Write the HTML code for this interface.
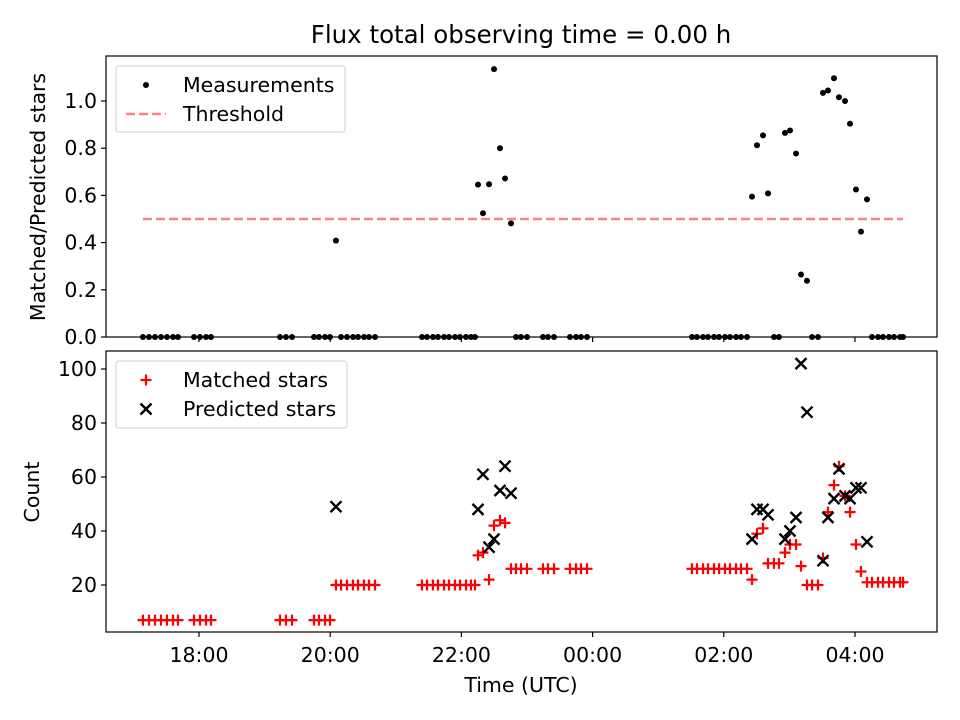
<!DOCTYPE html>
<html><head><meta charset="utf-8"><style>
body{margin:0;background:#fff}
svg{display:block;font-family:"DejaVu Sans","Liberation Sans",sans-serif}
</style></head><body>
<svg id="chart" width="960" height="720" viewBox="0 0 960 720" xmlns="http://www.w3.org/2000/svg">
<rect width="960" height="720" fill="#fff"/>
<text x="521" y="43" font-size="24.5" text-anchor="middle">Flux total observing time = 0.00 h</text>
<g id="gtop"></g><g id="gbot"></g>
<text transform="translate(45,197) rotate(-90)" font-size="20.5" text-anchor="middle">Matched/Predicted stars</text>
<text transform="translate(39,492) rotate(-90)" font-size="20.5" text-anchor="middle">Count</text>
<text x="521" y="692" font-size="20.5" text-anchor="middle">Time (UTC)</text>
</svg>
<script>
// observation times in hours (values >24 are after midnight)
const times=[17.146,17.238,17.329,17.421,17.512,17.604,17.680,17.924,18.015,18.107,18.183,19.235,19.326,19.418,19.753,19.829,19.921,19.997,
20.088,20.165,20.256,20.348,20.424,20.515,20.591,20.683,
21.399,21.476,21.567,21.643,21.735,21.811,21.902,21.979,22.070,22.146,22.207,
22.253,22.329,22.421,22.497,22.588,22.665,22.756,
22.832,22.909,23.0,23.244,23.320,23.412,23.655,23.747,23.823,23.915,
25.515,25.591,25.683,25.759,25.851,25.927,26.018,26.095,26.186,26.262,26.354,
26.430,26.506,26.598,26.674,26.765,26.841,26.933,27.009,27.101,27.177,27.268,27.345,27.436,27.512,27.588,27.680,27.756,27.848,27.924,28.015,28.091,28.183,
28.259,28.351,28.427,28.518,28.595,28.686,28.732];
const matched=[7,7,7,7,7,7,7,7,7,7,7,7,7,7,7,7,7,7,
20,20,20,20,20,20,20,20,
20,20,20,20,20,20,20,20,20,20,20,
31,32,22,42,44,43,26,
26,26,26,26,26,26,26,26,26,26,
26,26,26,26,26,26,26,26,26,26,26,
22,39,41,28,28,28,32,35,35,27,20,20,20,30,47,57,64,53,47,35,25,21,
21,21,21,21,21,21,21];
const predicted=[null,null,null,null,null,null,null,null,null,null,null,null,null,null,null,null,null,null,
49,null,null,null,null,null,null,null,
null,null,null,null,null,null,null,null,null,null,null,
48,61,34,37,55,64,54,
null,null,null,null,null,null,null,null,null,null,
null,null,null,null,null,null,null,null,null,null,null,
37,48,48,46,null,null,37,40,45,102,84,null,null,29,45,52,63,53,52,56,56,36,
null,null,null,null,null,null,null];
const threshold=0.5;
const xTickVals=[18,20,22,24,26,28];
const xTickLabels=["18:00","20:00","22:00","00:00","02:00","04:00"];
const topTicks=[0,0.2,0.4,0.6,0.8,1.0];
const botTicks=[20,40,60,80,100];

const NS="http://www.w3.org/2000/svg";
const L=106,R=937;
const xs=t=>199+(t-18)*65.6;
const yTop=v=>337-v*236;
const yBot=v=>585-(v-20)*2.7;
function mk(tag,attrs,parent){const e=document.createElementNS(NS,tag);for(const k in attrs)e.setAttribute(k,attrs[k]);parent.appendChild(e);return e;}
const gTop=document.getElementById('gtop'),gBot=document.getElementById('gbot');
const DASH='9,4';

// top panel
const th=mk('line',{x1:xs(times[0]),x2:xs(times[times.length-1]),y1:yTop(threshold),y2:yTop(threshold),stroke:'#ff8080','stroke-width':2.5,'stroke-dasharray':DASH},gTop);


times.forEach((t,i)=>{const r=predicted[i]?matched[i]/predicted[i]:0;
 const c=mk('circle',{cx:xs(t),cy:yTop(r),r:3,fill:'#000'},gTop);
 
 });
// bottom panel
times.forEach((t,i)=>{const x=xs(t),y=yBot(matched[i]);
 const p=mk('path',{d:`M${x-5.5},${y}H${x+5.5}M${x},${y-5.5}V${y+5.5}`,stroke:'#f00','stroke-width':2.2,fill:'none'},gBot);
 
 });
times.forEach((t,i)=>{if(predicted[i]==null)return;const x=xs(t),y=yBot(predicted[i]);
 const p=mk('path',{d:`M${x-5.5},${y-5.5}L${x+5.5},${y+5.5}M${x-5.5},${y+5.5}L${x+5.5},${y-5.5}`,stroke:'#000','stroke-width':2.4,fill:'none'},gBot);
 
 });

function frame(g,y0,y1,ticks,yf,fmt,showX){
 const f=mk('rect',{x:L,y:y0,width:R-L,height:y1-y0,fill:'none',stroke:'#000','stroke-width':1.2},g);
 
 
 ticks.forEach(v=>{const y=yf(v);mk('line',{x1:L-5,x2:L,y1:y,y2:y,stroke:'#000','stroke-width':1.2},g);
  const tx=mk('text',{x:L-9,y:y+7,'font-size':20.5,'text-anchor':'end'},g);tx.textContent=fmt(v);
  
  });
 xTickVals.forEach((v,i)=>{const x=xs(v);mk('line',{x1:x,x2:x,y1:y1,y2:y1+5,stroke:'#000','stroke-width':1.2},g);
  if(showX){const tx=mk('text',{x:x,y:y1+30,'font-size':20.5,'text-anchor':'middle'},g);tx.textContent=xTickLabels[i];
   
   }});
}
frame(gTop,56,337,topTicks,yTop,v=>v.toFixed(1),false);
frame(gBot,351,632,botTicks,yBot,v=>String(v),true);

function legend(g,x,y,w,h,items){
 const b=mk('rect',{x:x,y:y,width:w,height:h,rx:3,fill:'#fff','fill-opacity':0.8,stroke:'#ccc'},g);
 
 
 items.forEach((it,i)=>{const cy=y+19+i*29;it.draw(x+30,cy);
  const t=mk('text',{x:x+67,y:cy+7,'font-size':20.5},g);t.textContent=it.label;
  
  });
}
legend(gTop,116,66,229,66,[
 {label:'Measurements',draw:(x,y)=>mk('circle',{cx:x,cy:y,r:3,fill:'#000'},gTop)},
 {label:'Threshold',draw:(x,y)=>mk('line',{x1:x-20,x2:x+20,y1:y,y2:y,stroke:'#ff8080','stroke-width':2.5,'stroke-dasharray':DASH},gTop)}]);
legend(gBot,116,361,231,67,[
 {label:'Matched stars',draw:(x,y)=>mk('path',{d:`M${x-5.5},${y}H${x+5.5}M${x},${y-5.5}V${y+5.5}`,stroke:'#f00','stroke-width':2.2},gBot)},
 {label:'Predicted stars',draw:(x,y)=>mk('path',{d:`M${x-5.5},${y-5.5}L${x+5.5},${y+5.5}M${x-5.5},${y+5.5}L${x+5.5},${y-5.5}`,stroke:'#000','stroke-width':2.4},gBot)}]);
</script>
</body></html>
